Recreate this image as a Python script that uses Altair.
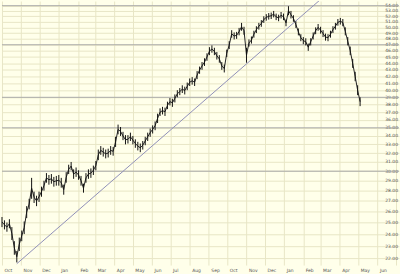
import altair as alt
import pandas as pd

# ---- data ----
START = "2004-10-01"          # first bar
STEP = "4D"                   # spacing between the bars drawn
LOW = [24.6, 24.4, 24.2, 24.5, 23.5, 22.3, 21.7, 22.6, 23.4, 24.0,
       25.4, 26.2, 27.2, 26.8, 26.5, 26.9, 27.4, 28.0, 28.8, 28.6,
       28.7, 28.4, 28.5, 28.5, 28.3, 27.6, 28.8, 29.7, 30.1, 29.2,
       29.4, 29.1, 28.5, 27.8, 28.8, 29.2, 29.3, 29.6, 30.1, 31.2,
       31.8, 31.6, 31.4, 31.5, 31.8, 31.7, 32.7, 34.2, 34.0, 33.5,
       33.0, 33.1, 33.4, 33.0, 32.6, 32.3, 32.1, 32.4, 32.9, 33.4,
       33.9, 34.3, 34.7, 35.6, 36.5, 36.7, 36.5, 37.4, 37.9, 37.7,
       38.3, 39.0, 39.3, 39.6, 39.4, 40.0, 40.6, 40.8, 40.6, 41.6,
       42.4, 43.0, 43.6, 44.4, 45.3, 45.7, 45.3, 44.6, 44.1, 43.0,
       42.6, 45.0, 46.3, 48.2, 47.9, 48.0, 48.6, 49.4, 48.7, 44.1,
       46.7, 47.2, 48.2, 49.0, 49.6, 50.1, 50.8, 51.2, 51.4, 51.5,
       51.8, 51.3, 51.1, 51.6, 51.3, 50.2, 52.2, 51.6, 51.0, 49.9,
       48.6, 47.6, 47.1, 46.9, 46.0, 46.9, 47.9, 48.8, 49.4, 48.9,
       48.3, 47.7, 47.6, 48.2, 49.0, 49.6, 50.3, 50.5, 50.2, 48.6,
       46.9, 45.3, 43.3, 41.3, 39.3, 37.8]
HIGH = [25.5, 25.2, 25.0, 25.3, 24.6, 23.4, 22.6, 23.7, 24.3, 25.1,
        26.5, 27.2, 29.3, 27.9, 27.5, 27.9, 28.4, 29.0, 29.8, 29.6,
        29.7, 29.4, 29.5, 29.6, 29.3, 28.6, 29.9, 30.7, 31.0, 30.2,
        30.4, 30.1, 29.5, 28.7, 29.8, 30.2, 30.3, 30.6, 31.1, 32.4,
        32.8, 32.6, 32.4, 32.5, 32.8, 32.7, 33.9, 35.4, 35.1, 34.5,
        34.1, 34.1, 34.4, 34.0, 33.6, 33.3, 33.1, 33.4, 33.9, 34.4,
        34.9, 35.3, 35.8, 36.8, 37.5, 37.7, 37.6, 38.4, 38.9, 38.8,
        39.4, 40.0, 40.3, 40.7, 40.5, 41.1, 41.7, 41.9, 41.7, 42.8,
        43.5, 44.2, 44.8, 45.6, 46.6, 46.9, 46.5, 45.8, 45.3, 44.2,
        43.8, 46.2, 47.6, 49.5, 49.1, 49.2, 49.9, 50.8, 50.1, 46.5,
        47.9, 48.4, 49.4, 50.2, 50.8, 51.3, 52.0, 52.4, 52.6, 52.7,
        53.0, 52.5, 52.3, 52.8, 52.5, 51.4, 53.9, 53.0, 52.2, 51.1,
        49.8, 48.8, 48.3, 48.1, 47.2, 48.1, 49.1, 50.0, 50.6, 50.1,
        49.5, 48.9, 48.8, 49.4, 50.2, 50.8, 51.5, 51.7, 51.5, 50.0,
        48.3, 46.7, 44.7, 42.7, 40.7, 39.0]

TREND_DATES = ["2004-10-25", "2006-02-27"]
TREND_PRICES = [21.6, 55.0]

LEVELS = [54, 47, 39, 35, 30]          # darker horizontal lines
Y_TICKS = list(range(22, 55))          # 22.00 ... 54.00

BG = "#FFFFEA"
GRID = "#E8E6C6"

dates = pd.date_range(START, periods=len(LOW), freq=STEP)
bars = pd.DataFrame({"date": dates, "low": LOW, "high": HIGH})
bars["mid"] = (bars["low"] + bars["high"]) / 2
trend = pd.DataFrame({"date": pd.to_datetime(TREND_DATES), "price": TREND_PRICES})
levels = pd.DataFrame({"price": LEVELS})

x_scale = alt.Scale(domain=[alt.DateTime(year=2004, month=10, date=1),
                            alt.DateTime(year=2006, month=7, date=6)])
y_scale = alt.Scale(type="log", domain=[21.5, 54.9], nice=False)

x_axis = alt.Axis(format="%b", tickCount=alt.TimeIntervalStep(interval="month", step=1),
                  labelExpr="month(datum.value) == 6 && year(datum.value) == 2006 ? '' : datum.label",
                  labelAlign="left", labelBaseline="top", labelPadding=3, labelOffset=2,
                  ticks=False, tickSize=0, domain=False, grid=True, gridColor=GRID,
                  gridWidth=1, labelFontSize=4.5, labelColor="#555555",
                  labelFont="DejaVu Sans", labelOverlap=False, labelFlush=False, title=None)
y_axis = alt.Axis(orient="right", values=Y_TICKS, format=".2f", labelAlign="right",
                  labelPadding=-1.5, ticks=False, tickSize=0, domain=False, grid=True,
                  gridColor=GRID, gridWidth=1, labelFontSize=4.5, labelColor="#555555",
                  labelFont="DejaVu Sans", labelOverlap=False, labelFlush=False, title=None)

base_x = alt.X("date:T", scale=x_scale, axis=x_axis)

ohlc = alt.Chart(bars).mark_rule(color="#111111", strokeWidth=1).encode(
    x=base_x,
    y=alt.Y("low:Q", scale=y_scale, axis=y_axis),
    y2="high:Q",
)
path = alt.Chart(bars).mark_line(color="#222222", strokeWidth=1).encode(
    x=alt.X("date:T", scale=x_scale),
    y=alt.Y("mid:Q", scale=y_scale),
)
lvl = alt.Chart(levels).mark_rule(color="#A9A9A9", strokeWidth=1).encode(
    y=alt.Y("price:Q", scale=y_scale),
)
trend_line = alt.Chart(trend).mark_line(color="#9090B8", strokeWidth=1, clip=True).encode(
    x=alt.X("date:T", scale=x_scale),
    y=alt.Y("price:Q", scale=y_scale),
)

chart = alt.layer(lvl, trend_line, path, ohlc).properties(
    width=400, height=266, background=BG, padding=0,
    autosize=alt.AutoSizeParams(type="pad"),
).configure_view(stroke=None, fill=BG)

chart.save("out.html", embed_options={"renderer": "svg", "actions": False})
